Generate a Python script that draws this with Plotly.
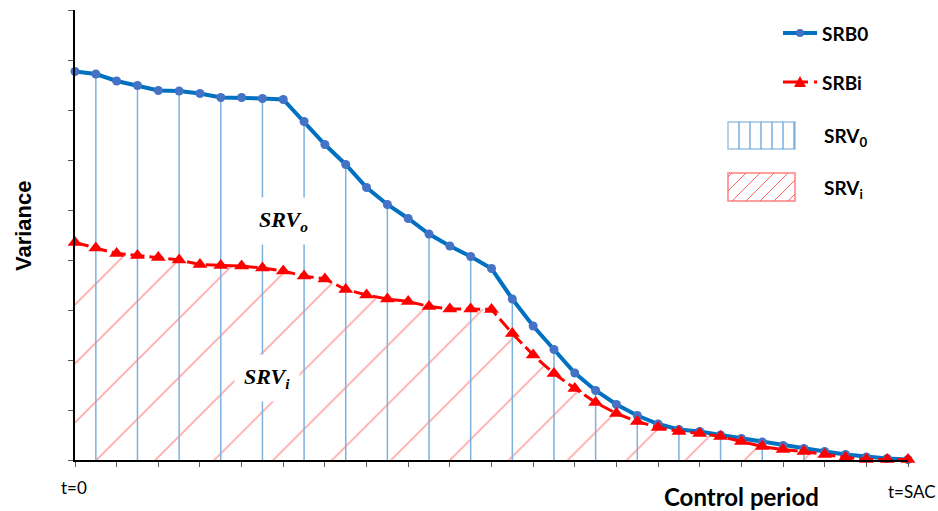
import plotly.graph_objects as go

# control period points t=0 ... t=SAC
periods = list(range(41))

# variance of the baseline scheme (SRB0)
srb0 = [7.77, 7.72, 7.58, 7.49, 7.39, 7.38, 7.33, 7.25, 7.25, 7.23,
        7.21, 6.77, 6.31, 5.91, 5.45, 5.11, 4.83, 4.52, 4.28, 4.07,
        3.83, 3.22, 2.68, 2.21, 1.74, 1.39, 1.11, 0.89, 0.72, 0.61,
        0.57, 0.50, 0.43, 0.36, 0.29, 0.23, 0.17, 0.11, 0.06, 0.03, 0.01]

# variance of the improved scheme (SRBi)
srbi = [4.35, 4.24, 4.13, 4.09, 4.05, 4.00, 3.91, 3.89, 3.88, 3.84,
        3.78, 3.68, 3.62, 3.41, 3.30, 3.22, 3.17, 3.07, 3.02, 3.02,
        3.01, 2.53, 2.10, 1.73, 1.43, 1.15, 0.93, 0.77, 0.65, 0.57,
        0.53, 0.47, 0.37, 0.27, 0.21, 0.17, 0.11, 0.05, 0.01, 0.01, 0.01]

BLUE = "#0070C0"
BLUE_MK = "#4472C4"
BLUE_FILL = "#7EB0DE"
RED = "#FF0000"
RED_FILL = "#FF3030"
CALIBRI = "Lato"

# plot area in pixels (for legend decorations)
L, R, T, B = 75, 30, 10, 51
W, H = 938, 511


def px(x, y):
    # pixel position -> paper coords
    return (x - L) / (W - L - R), (H - B - y) / (H - T - B)


fig = go.Figure()

# SRVi: hatched area under SRBi
fig.add_trace(go.Scatter(x=periods, y=srbi, mode="none", fill="tozeroy",
                         fillcolor="rgba(0,0,0,0)",
                         fillpattern=dict(shape="/", size=41.67, solidity=0.035,
                                          fgcolor=RED_FILL, bgcolor="rgba(0,0,0,0)"),
                         hoverinfo="skip"))

# SRV0: vertical stripes under SRB0 (one at every odd point)
xs, ys = [], []
for i in periods[1::2]:
    xs += [i, i, None]
    ys += [0, srb0[i], None]
fig.add_trace(go.Scatter(x=xs, y=ys, mode="lines",
                         line=dict(color=BLUE_FILL, width=1.5), hoverinfo="skip"))

fig.add_trace(go.Scatter(x=periods, y=srb0, mode="lines+markers", name="SRB0",
                         line=dict(color=BLUE, width=4),
                         marker=dict(color=BLUE_MK, size=9, line=dict(width=0)),
                         cliponaxis=False))
fig.add_trace(go.Scatter(x=periods, y=srbi, mode="lines+markers", name="SRBi",
                         line=dict(color=RED, width=3, dash="14px,5px"),
                         marker=dict(color=RED, size=13, symbol="triangle-up",
                                     line=dict(width=0)),
                         cliponaxis=False))

shapes = []
anns = []

# legend: SRB0
x0, y0 = px(783, 33); x1, _ = px(817, 33)
shapes.append(dict(type="line", xref="paper", yref="paper", x0=x0, y0=y0, x1=x1, y1=y0,
                   line=dict(color=BLUE, width=4)))
shapes.append(dict(type="circle", xref="paper", yref="paper",
                   x0=px(796, 0)[0], x1=px(804, 0)[0], y0=px(0, 37)[1], y1=px(0, 29)[1],
                   fillcolor=BLUE_MK, line=dict(width=0)))
# legend: SRBi
x0, y0 = px(783, 82); x1, _ = px(808, 82)
shapes.append(dict(type="line", xref="paper", yref="paper", x0=x0, y0=y0, x1=x1, y1=y0,
                   line=dict(color=RED, width=3)))
x0, y0 = px(814, 82); x1, _ = px(817, 82)
shapes.append(dict(type="line", xref="paper", yref="paper", x0=x0, y0=y0, x1=x1, y1=y0,
                   line=dict(color=RED, width=3)))
a = px(794, 87); b = px(806, 87); c = px(800, 76)
shapes.append(dict(type="path", xref="paper", yref="paper",
                   path=f"M{a[0]},{a[1]} L{b[0]},{b[1]} L{c[0]},{c[1]} Z",
                   fillcolor=RED, line=dict(width=0)))
# legend: SRV0 box
bx0, bx1 = 728, 795
x0, y0 = px(bx0, 149); x1, y1 = px(bx1, 122)
shapes.append(dict(type="rect", xref="paper", yref="paper", x0=x0, y0=y0, x1=x1, y1=y1,
                   line=dict(color="#9DC3E6", width=1.5)))
for vx in range(739, 795, 11):
    p0 = px(vx, 149); p1 = px(vx, 122)
    shapes.append(dict(type="line", xref="paper", yref="paper",
                       x0=p0[0], y0=p0[1], x1=p1[0], y1=p1[1],
                       line=dict(color="#5B9BD5", width=1.2)))
# legend: SRVi box
top, bot = 173, 201
x0, y0 = px(bx0, bot); x1, y1 = px(bx1, top)
shapes.append(dict(type="rect", xref="paper", yref="paper", x0=x0, y0=y0, x1=x1, y1=y1,
                   line=dict(color="#FF8080", width=1.5)))
hgt = bot - top
for sx in range(bx0 - hgt + 4, bx1, 14):
    # diagonal from (sx, bot) to (sx + hgt, top), clipped to box
    xa, ya = sx, bot
    xb, yb = sx + hgt, top
    if xa < bx0:
        ya = bot - (bx0 - xa); xa = bx0
    if xb > bx1:
        yb = top + (xb - bx1); xb = bx1
    if xb <= xa:
        continue
    p0 = px(xa, ya); p1 = px(xb, yb)
    shapes.append(dict(type="line", xref="paper", yref="paper",
                       x0=p0[0], y0=p0[1], x1=p1[0], y1=p1[1],
                       line=dict(color="#FF6060", width=1)))

leg_font = dict(family=CALIBRI, size=19, color="black")
for txt, ly, lx in [("SRB0", 33, 820), ("SRBi", 82, 820),
                    ("SRV<sub>0</sub>", 137, 822), ("SRV<sub>i</sub>", 189, 822)]:
    x, y = px(lx, ly)
    anns.append(dict(text=f"<b>{txt}</b>", x=x, y=y, xref="paper", yref="paper",
                     xanchor="left", yanchor="middle", showarrow=False, font=leg_font))

# area labels
serif = dict(family="Liberation Serif", size=22, color="black")
anns.append(dict(text="<b><i>SRV<sub>o</sub></i></b>", x=10.0, y=4.78, xref="x", yref="y",
                 xanchor="center", yanchor="middle",
                 showarrow=False, font=serif, bgcolor="white", borderpad=9))
anns.append(dict(text="<b><i>SRV<sub>i</sub></i></b>", x=9.2, y=1.64, xref="x", yref="y",
                 xanchor="center", yanchor="middle",
                 showarrow=False, font=serif, bgcolor="white", borderpad=9))

# axis labels
for txt, lx, ly, fnt, ang in [
        ("<b>Variance</b>", 23, 226, dict(family="Liberation Sans", size=22), -90),
        ("<b>Control period</b>", 741, 496, dict(family=CALIBRI, size=24), 0),
        ("t=0", 74, 487, dict(family=CALIBRI, size=17), 0),
        ("t=SAC", 912, 491, dict(family=CALIBRI, size=17), 0)]:
    x, y = px(lx, ly)
    fnt["color"] = "black"
    anns.append(dict(text=txt, x=x, y=y, xref="paper", yref="paper",
                     xanchor="center", yanchor="middle", textangle=ang,
                     showarrow=False, font=fnt))

fig.update_layout(width=W, height=H, margin=dict(l=L, r=R, t=T, b=B),
                  plot_bgcolor="white", paper_bgcolor="white", showlegend=False,
                  shapes=shapes, annotations=anns)
fig.update_xaxes(range=[0, 40], tickvals=periods[::2], showticklabels=False,
                 ticks="outside", ticklen=5, tickcolor="#595959", tickwidth=1.2,
                 showline=True, linecolor="black", linewidth=1.5,
                 showgrid=False, zeroline=False)
fig.update_yaxes(range=[0, 9], dtick=1, showticklabels=False,
                 ticks="outside", ticklen=5, tickcolor="#595959", tickwidth=1.2,
                 showline=True, linecolor="black", linewidth=1.5,
                 showgrid=False, zeroline=False)

fig.write_html("out.html", config={"displayModeBar": False},
               post_script="document.body.style.margin='0';")
